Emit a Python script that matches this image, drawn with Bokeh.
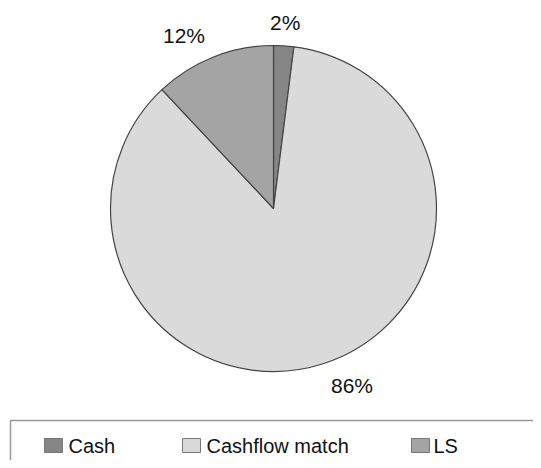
import numpy as np
from bokeh.plotting import figure
from bokeh.models import Range1d, ColumnDataSource
from bokeh.core.properties import value
from bokeh.embed import file_html
from bokeh.resources import INLINE

# ---- data ----
categories = ["Cash", "Cashflow match", "LS"]
shares = [2, 86, 12]
labels = ["2%", "86%", "12%"]
colors = ["#858585", "#dadada", "#a4a4a4"]

# ---- layout (pixel-like data space, y up) ----
W, H = 533, 460
cx, cy, R = 273, 252, 163
FONT = value("Liberation Sans")

p = figure(width=W, height=H, output_backend="svg", toolbar_location=None,
           x_range=Range1d(0, W), y_range=Range1d(0, H), min_border=0)
p.axis.visible = False
p.grid.visible = False
p.outline_line_color = None
p.background_fill_color = "white"

vals = np.array(shares, dtype=float)
ang = vals / vals.sum() * 2 * np.pi
start = np.pi / 2 - np.concatenate([[0], np.cumsum(ang)[:-1]])
end = start - ang
mid = (start + end) / 2

src = ColumnDataSource(dict(cat=categories, start=start, end=end, color=colors))
p.wedge(x=cx, y=cy, radius=R, start_angle="start", end_angle="end",
        direction="clock", fill_color="color", line_color="#444444",
        line_width=1.2, source=src)

# percentage labels, placed outside end
a = 186
ux, uy = np.cos(mid), np.sin(mid)
lx = cx + a * ux
ly = cy + a * uy
aligns = ["left" if u > 0.2 else ("right" if u < -0.2 else "center") for u in ux]
p.text(x=lx, y=ly, text=labels, text_align=aligns, text_baseline="middle",
       text_font=FONT, text_font_size="21px", text_color="#111111")

# legend box (top and left border visible, continues past the edges)
p.line(x=[10, 10, W + 5], y=[-5, 40, 40], line_color="#9a9a9a", line_width=1.5)

sw_x = [53, 191, 420]
txt_x = [68, 206, 433]
ly_leg = 15
p.rect(x=sw_x, y=ly_leg, width=18, height=14, fill_color=colors,
       line_color="#777777", line_width=1)
p.text(x=txt_x, y=ly_leg, text=categories, text_align="left",
       text_baseline="middle", text_font=FONT, text_font_size="20px",
       text_color="#111111")

open("out.html", "w").write(file_html(p, INLINE))
